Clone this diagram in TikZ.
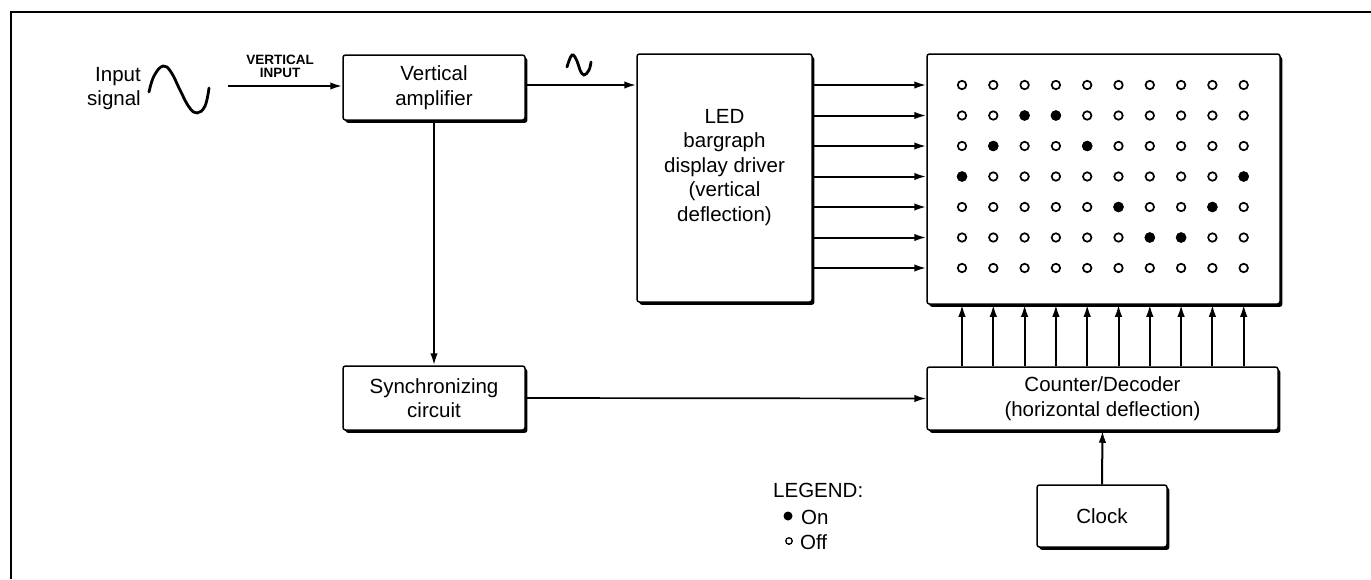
\documentclass[tikz,border=0pt]{standalone}
\usepackage{fontspec}
\setmainfont{Liberation Sans}
\usetikzlibrary{arrows.meta,shadows}
\begin{document}
\begin{tikzpicture}[x=1pt,y=-1pt,
  every node/.style={font=\fontsize{20.5}{24.5}\selectfont, inner sep=0pt},
  blk/.style={draw, line width=1.5pt, fill=white, rounded corners=2.5pt, align=center,
    drop shadow={shadow xshift=2.4pt, shadow yshift=-2.8pt, opacity=1, fill=black}},
  conn/.style={line width=2pt, -{Latex[length=12pt,width=7.5pt]}},
  ledoff/.style={circle, draw, line width=1.7pt, minimum size=8.5pt, inner sep=0pt},
  ledon/.style={circle, fill, draw=none, minimum size=10.5pt, inner sep=0pt},
  lbl/.style={align=center},
]
\useasboundingbox (0,0) rectangle (1371,579);
\draw[line width=2pt] (1371,12) -- (11,12) -- (11,579);

% blocks
\node[blk, minimum width=182pt, minimum height=65pt] (amp) at (434,87.5) {Vertical\\amplifier};
\node[blk, minimum width=175pt, minimum height=248pt] (led) at (724.5,178) {};
\node[lbl] (ledlbl) at (724.5,167.5) {LED\\bargraph\\display driver\\(vertical\\deflection)};
\node[blk, minimum width=353pt, minimum height=250pt] (mat) at (1103.5,179) {};
\node[blk, minimum width=182pt, minimum height=64pt] (sync) at (434,398) {Synchronizing\\circuit};
\node[blk, minimum width=351pt, minimum height=63pt] (cnt) at (1102.5,398.5) {Counter/Decoder\\(horizontal deflection)};
\node[blk, minimum width=130pt, minimum height=62pt] (clk) at (1102,516) {Clock};

% input side
\node[align=right, anchor=east] (insig) at (141,88.5) {Input\\signal};
\node[align=center, font=\bfseries\fontsize{13.5}{13}\selectfont] (vi) at (280,66.5) {VERTICAL\\INPUT};
\draw[line width=2.8pt, line cap=round] plot[smooth, tension=0.7] coordinates
  {(149,92) (154,76) (163,66) (171,72) (180,90) (189,107) (197,113) (205,106) (209,88)};
\draw[line width=2.8pt, line cap=round] plot[smooth, tension=0.7] coordinates
  {(567,67) (572,55) (577,61) (580,70) (584,75) (589,70) (591,62)};

% connectors
\coordinate (inA) at (228,86);
\draw[conn] (inA) -- (inA -| amp.west);
\draw[conn] (amp.east |- 0,85) -- (led.west |- 0,85);
\draw[conn] (amp.south) -- (sync.north);
\draw[conn, line width=1.7pt] (sync.east) -- (cnt.west);
\draw[conn] (clk.north) -- (cnt.south);
\foreach \i in {0,...,6} {
  \pgfmathsetmacro\yy{85+30.5*\i}
  \draw[conn] (led.east |- 0,\yy) -- (mat.west |- 0,\yy);
}
\foreach \c in {1,...,10} {
  \pgfmathsetmacro\xx{962+31.3*(\c-1)}
  \draw[conn] (cnt.north -| \xx,0) -- (mat.south -| \xx,0);
}

% LED matrix
\foreach \r in {1,...,7} {
  \foreach \c in {1,...,10} {
    \node[ledoff] (d\r-\c) at ({962+31.3*(\c-1)},{85+30.5*(\r-1)}) {};
  }
}
\foreach \r/\c in {2/3,2/4,3/2,3/5,4/1,4/10,5/6,5/9,6/7,6/8} {
  \node[ledon] (on\r-\c) at ({962+31.3*(\c-1)},{85+30.5*(\r-1)}) {};
}

% legend
\node[anchor=west] (leg) at (773,490) {LEGEND:};
\node[ledon, minimum size=9pt] (legon) at (788,516) {};
\node[anchor=west] (ontxt) at (801,517) {On};
\node[ledoff, minimum size=6.5pt, line width=1.3pt] (legoff) at (789,541) {};
\node[anchor=west] (offtxt) at (800,542) {Off};
\end{tikzpicture}
\end{document}
